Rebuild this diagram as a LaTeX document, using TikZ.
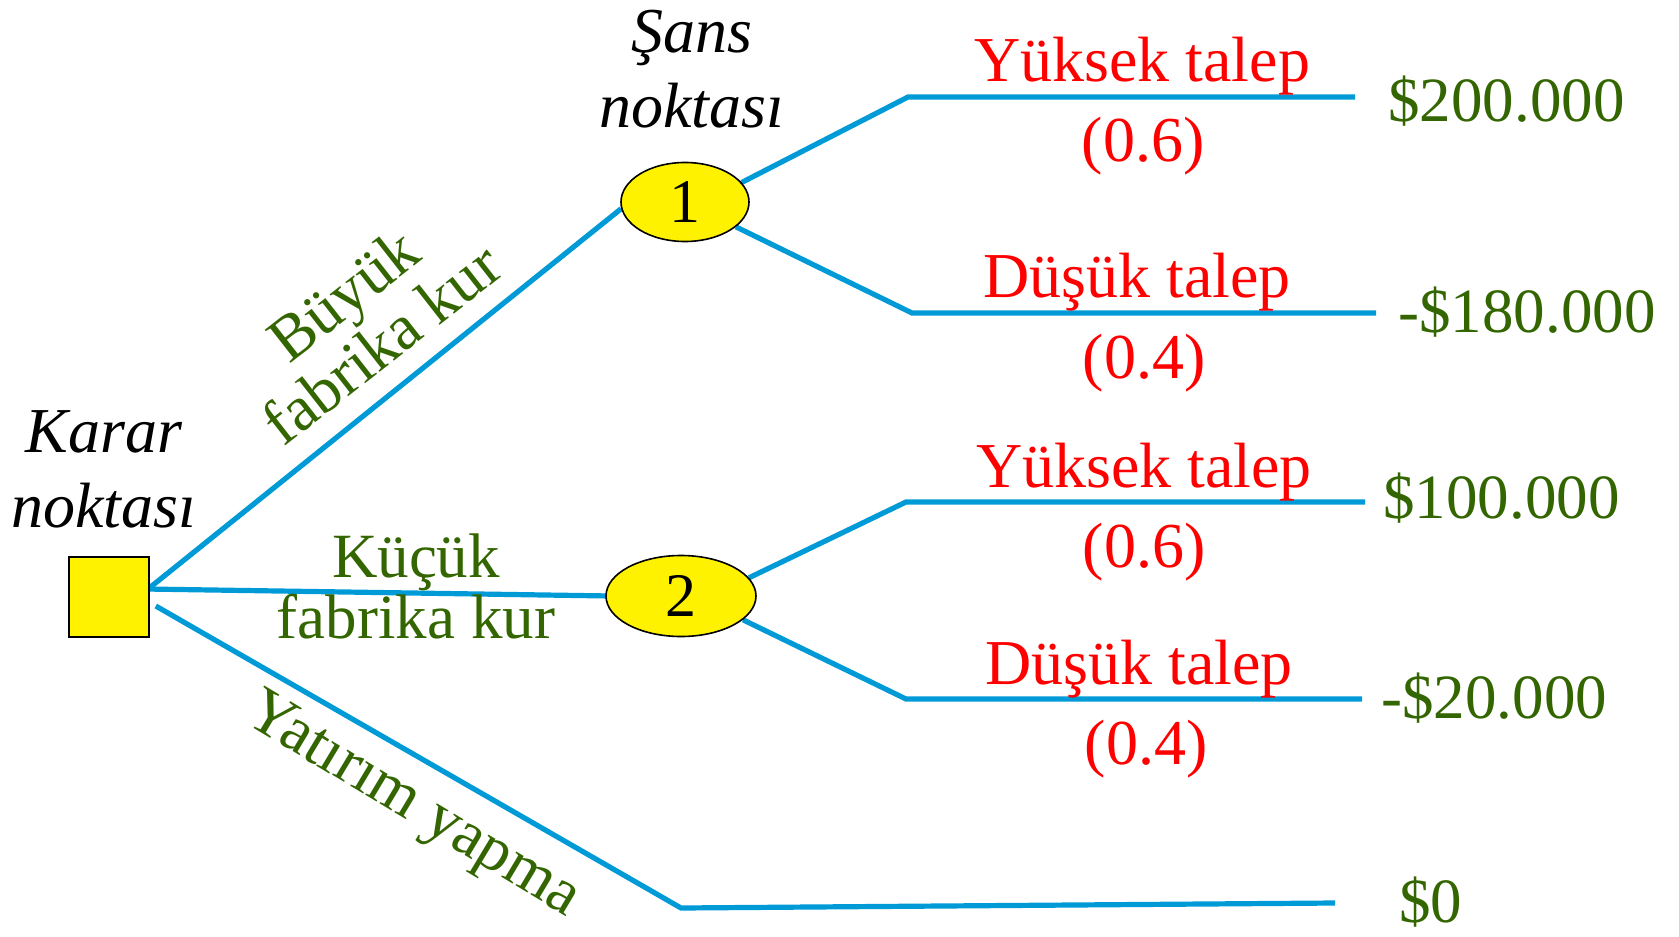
\documentclass[tikz,border=0pt]{standalone}
\usepackage{fontspec}
\setmainfont{Liberation Serif}
\usetikzlibrary{shapes.geometric, backgrounds}

\definecolor{branchblue}{RGB}{0,155,215}
\definecolor{actgreen}{RGB}{51,102,0}

\begin{document}
\begin{tikzpicture}[x = 0.5pt, y = -0.5pt,
	branch/.style = {draw = branchblue, line width = 2.6pt},
	chance/.style = {ellipse, draw = black, line width = 0.8pt, fill = yellow, inner sep = 0pt, font = \fontsize{31}{31}\selectfont},
	act/.style = {text = actgreen, align = center, inner sep = 0pt},
	demand/.style = {text = red, anchor = base, inner sep = 0pt, font = \fontsize{32}{32}\selectfont},
	payoff/.style = {text = actgreen, anchor = base west, inner sep = 0pt, font = \fontsize{31.5}{31.5}\selectfont},
	title/.style = {align = center, anchor = base, inner sep = 0pt, font = \fontsize{32}{37.5}\selectfont\itshape}]

	% Frame

	\useasboundingbox (0, 0) rectangle (1679, 936);

	% Decision and chance nodes

	\node [draw, fill = yellow, line width = 0.8pt, minimum size = 40pt, inner sep = 0pt] (karar) at (109, 597) {};
	\node [chance, minimum width = 64pt, minimum height = 39.5pt] (sans1) at (685, 202) {1};
	\node [chance, minimum width = 75pt, minimum height = 40.5pt] (sans2) at (681, 596) {2};

	\node [title] (karart) at (104, 527) {Karar\\noktası};
	\node [title] (sanst) at (692, 128) {Şans\\noktası};

	% Bends and ends of the branches

	\coordinate (y1) at (908, 97);
	\coordinate (y1e) at (1355, 97);
	\coordinate (d1) at (912, 313);
	\coordinate (d1e) at (1376, 313);
	\coordinate (y2) at (906, 502);
	\coordinate (y2e) at (1365, 502);
	\coordinate (d2) at (906, 699);
	\coordinate (d2e) at (1362, 699);
	\coordinate (yat) at (681, 908);
	\coordinate (yate) at (1335, 903);

	% Branches

	\begin{scope}[on background layer]

		\draw [branch] (karar.13) -- (sans1.186);
		\draw [branch] (karar.11) -- ([xshift = 3pt]sans2.west);
		\draw [branch] ([shift = {(6, 9)}]karar.east) -- (yat) -- (yate);

		\draw [branch] (sans1.19) -- (y1) -- (y1e);
		\draw [branch] (sans1.-26) -- (d1) -- (d1e);
		\draw [branch] (sans2.15) -- (y2) -- (y2e);
		\draw [branch] (sans2.-21) -- (d2) -- (d2e);

	\end{scope}

	% Actions

	\node [act, rotate = 38, font = \fontsize{32}{31}\selectfont] (buyuk) at (362, 319) {Büyük\\fabrika kur};
	\node [act, anchor = base, font = \fontsize{31.5}{30.5}\selectfont] (kucuk) at (416, 638) {Küçük\\fabrika kur};
	\node [act, rotate = -31, font = \fontsize{32}{32}\selectfont] (yatirim) at (412, 807) {Yatırım yapma};

	% Demand and probabilities

	\node [demand] (yuksek1) at (1142, 82) {Yüksek talep};
	\node [demand] (olas1) at (1143, 162) {(0.6)};
	\node [demand] (dusuk1) at (1137, 297) {Düşük talep};
	\node [demand] (olas2) at (1144, 378) {(0.4)};
	\node [demand] (yuksek2) at (1144, 487) {Yüksek talep};
	\node [demand] (olas3) at (1144, 567) {(0.6)};
	\node [demand] (dusuk2) at (1139, 684) {Düşük talep};
	\node [demand] (olas4) at (1146, 764) {(0.4)};

	% Payoffs

	\node [payoff] (getiri1) at (1388, 122) {\$200.000};
	\node [payoff] (getiri2) at (1398, 332) {-\$180.000};
	\node [payoff] (getiri3) at (1383, 518) {\$100.000};
	\node [payoff] (getiri4) at (1381, 718) {-\$20.000};
	\node [payoff] (getiri5) at (1399, 922) {\$0};

\end{tikzpicture}
\end{document}
